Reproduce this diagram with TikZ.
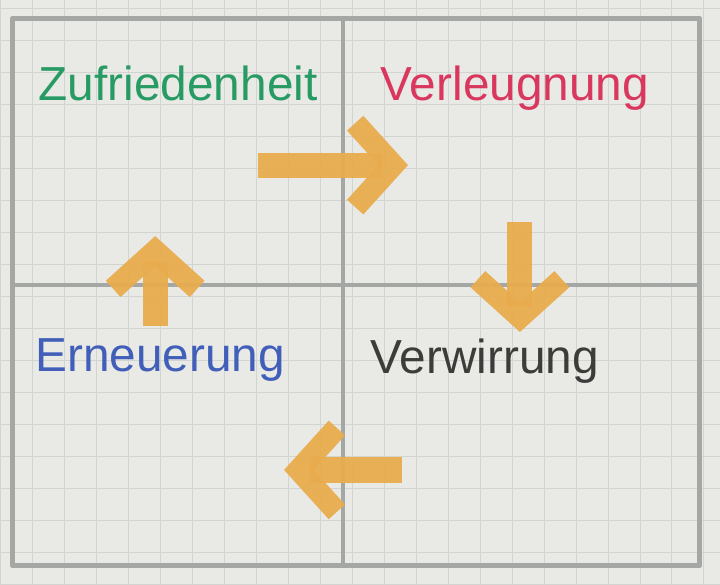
\documentclass[tikz,border=0pt]{standalone}
\usepackage{fontspec}
\setmainfont{Liberation Sans}
\usetikzlibrary{arrows.meta}
\definecolor{papier}{RGB}{233,234,230}
\definecolor{linien}{RGB}{210,212,209}
\definecolor{rahmengrau}{RGB}{165,167,165}
\definecolor{gruen}{RGB}{40,155,100}
\definecolor{rosa}{RGB}{218,55,95}
\definecolor{blau}{RGB}{65,95,185}
\definecolor{dunkel}{RGB}{60,60,58}
\definecolor{klebeband}{RGB}{232,172,78}
\tikzset{
  rahmen/.style={rahmengrau,line width=1.2mm,line join=round},
  kaestchen/.style={linien,line width=.4pt},
  wort/.style={font=\fontsize{34}{40}\selectfont,anchor=base,inner sep=0pt},
  band/.style={klebeband,line width=6.3mm,opacity=.95,
    -{Straight Barb[length=9.5mm,width=21mm,line width=5.5mm]}}
}
\begin{document}
\begin{tikzpicture}
\fill[papier] (0,0) rectangle (18,14.6);
\draw[kaestchen,step=.8] (0,0) grid (18,14.6);
% Rahmen und Quadranten
\draw[rahmen] (.3,.45) -- (.3,14.15) -- (17.5,14.15) -- (17.5,.45) -- cycle;
\draw[rahmen] (8.575,.45) -- (8.575,14.15);
\draw[rahmen] (.3,7.475) -- (17.5,7.475);
% Phasen
\node[wort,text=gruen] (zuf) at (4.45,12.1) {Zufriedenheit};
\node[wort,text=rosa] (verl) at (12.875,12.1) {Verleugnung};
\node[wort,text=dunkel] (verw) at (12.125,5.25) {Verwirrung};
\node[wort,text=blau] (ern) at (4,5.3) {Erneuerung};
% Pfeile
\coordinate (zv1) at (6.45,10.475);
\coordinate (zv2) at (10.2,10.475);
\coordinate (vv1) at (13,9.05);
\coordinate (vv2) at (13,6.3);
\coordinate (ve1) at (10.05,2.85);
\coordinate (ve2) at (7.1,2.85);
\coordinate (ez1) at (3.875,6.45);
\coordinate (ez2) at (3.875,8.7);
\draw[band] (zv1) -- (zv2);
\draw[band] (vv1) -- (vv2);
\draw[band] (ve1) -- (ve2);
\draw[band] (ez1) -- (ez2);
\end{tikzpicture}
\end{document}
